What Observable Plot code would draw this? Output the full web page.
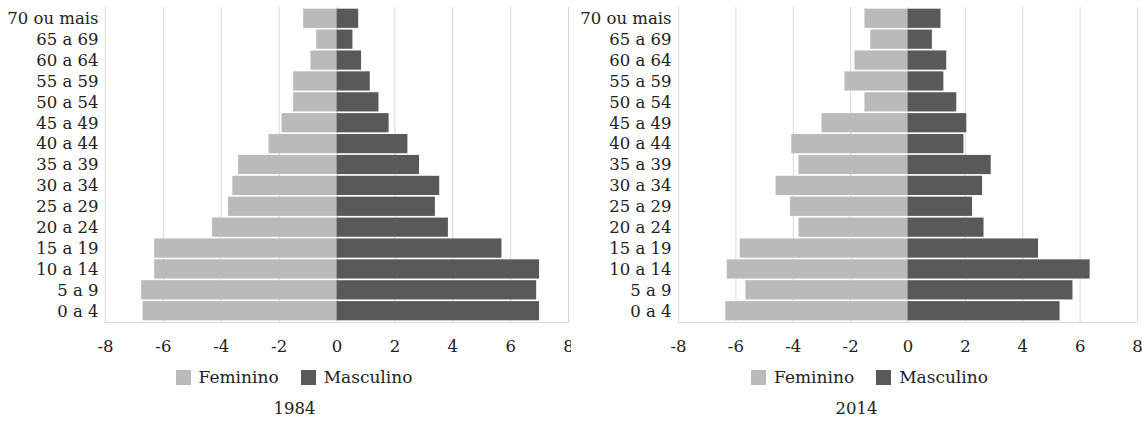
<!DOCTYPE html>
<html><head><meta charset="utf-8">
<script src="https://cdn.jsdelivr.net/npm/d3@7"></script>
<script src="https://cdn.jsdelivr.net/npm/@observablehq/plot@0.6"></script>
<style>
body{margin:0;background:#fff;font-family:"DejaVu Serif",serif;color:#222}
#wrap{display:flex;width:1142px}
.panel{width:571px}
.panel svg{overflow:visible}
.legend{display:flex;justify-content:center;align-items:center;gap:22px;font-size:17px;height:30px;box-sizing:border-box}
.legend span{display:inline-flex;align-items:center}
.sw{display:inline-block;width:15px;height:15px;margin-right:8px}
.title{text-align:center;font-size:16.5px;line-height:20px;padding-top:7px;box-sizing:border-box}
</style></head><body><div id="wrap"></div>
<script>
const ageGroups = ["70 ou mais","65 a 69","60 a 64","55 a 59","50 a 54","45 a 49","40 a 44","35 a 39","30 a 34","25 a 29","20 a 24","15 a 19","10 a 14","5 a 9","0 a 4"];
const sexes = ["Feminino","Masculino"];
const colors = ["#b8babc","#58595b"];
const xTicks = [-8,-6,-4,-2,0,2,4,6,8];
const years = ["1984","2014"];
const female1984 = [-1.15,-0.7,-0.9,-1.5,-1.5,-1.9,-2.35,-3.4,-3.6,-3.75,-4.3,-6.3,-6.3,-6.75,-6.7];
const male1984   = [0.75,0.55,0.85,1.15,1.45,1.8,2.45,2.85,3.55,3.4,3.85,5.7,7.0,6.9,7.0];
const female2014 = [-1.5,-1.3,-1.85,-2.2,-1.5,-3.0,-4.05,-3.8,-4.6,-4.1,-3.8,-5.85,-6.3,-5.65,-6.35];
const male2014   = [1.15,0.85,1.35,1.25,1.7,2.05,1.95,2.9,2.6,2.25,2.65,4.55,6.35,5.75,5.3];

const panels = [
  {year: years[0], f: female1984, m: male1984, ml: 105, mr: 3, legPad: 17, titlePad: 18},
  {year: years[1], f: female2014, m: male2014, ml: 107, mr: 5, legPad: 26, titlePad: 0}
];
const fmt = d => String(d);
const wrap = document.getElementById("wrap");
for (const p of panels) {
  const table = [];
  ageGroups.forEach((a,i) => {
    table.push({age:a, sex:sexes[0], value:p.f[i]});
    table.push({age:a, sex:sexes[1], value:p.m[i]});
  });
  const div = document.createElement("div");
  div.className = "panel";
  const chart = Plot.plot({
    width:571, height:362, marginLeft:p.ml, marginRight:p.mr, marginTop:7, marginBottom:40,
    style:{fontFamily:"DejaVu Serif", fontSize:"16.5px", color:"#222", background:"white"},
    x:{domain:[-8,8], ticks:xTicks, tickFormat:fmt, label:null},
    y:{domain:ageGroups, padding:0.08, round:false, label:null},
    color:{domain:sexes, range:colors},
    marks:[
      Plot.gridX(xTicks,{stroke:"#d9d9d9", strokeOpacity:1}),
      Plot.frame({anchor:"bottom", stroke:"#d9d9d9"}),
      Plot.barX(table,{x:"value", y:"age", fill:"sex"}),
      Plot.axisY({tickSize:0, tickPadding:7, fontSize:16.5}),
      Plot.axisX({ticks:xTicks, tickFormat:fmt, tickSize:0, tickPadding:18, fontSize:16.5})
    ]
  });
  div.appendChild(chart);
  const leg = document.createElement("div");
  leg.className = "legend";
  leg.style.paddingLeft = p.legPad + "px";
  sexes.forEach((s,i) => {
    const sp = document.createElement("span");
    const sw = document.createElement("i");
    sw.className = "sw"; sw.style.background = colors[i];
    sp.appendChild(sw); sp.appendChild(document.createTextNode(s));
    leg.appendChild(sp);
  });
  div.appendChild(leg);
  const t = document.createElement("div");
  t.className = "title"; t.textContent = p.year;
  t.style.paddingLeft = p.titlePad + "px";
  div.appendChild(t);
  wrap.appendChild(div);
}
</script></body></html>
